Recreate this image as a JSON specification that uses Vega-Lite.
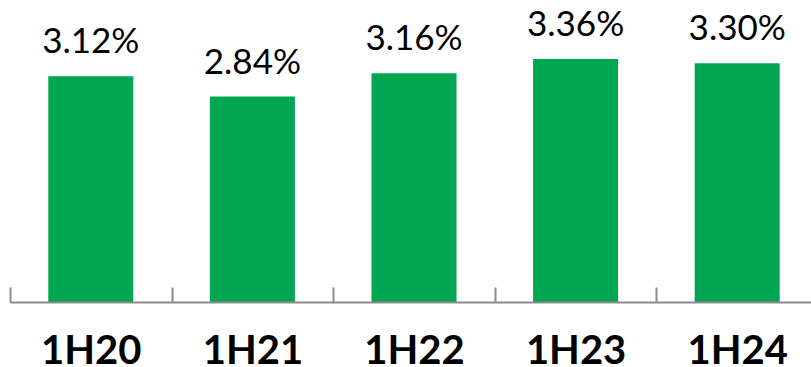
{
  "$schema": "https://vega.github.io/schema/vega-lite/v6.json",
  "autosize": {"type": "none"},
  "width": 808,
  "height": 302,
  "padding": {"left": 10, "top": 0, "right": 0, "bottom": 65},
  "background": "white",
  "data": {"values": [
    {"period": "1H20", "value": 3.12, "label": "3.12%"},
    {"period": "1H21", "value": 2.84, "label": "2.84%"},
    {"period": "1H22", "value": 3.16, "label": "3.16%"},
    {"period": "1H23", "value": 3.36, "label": "3.36%"},
    {"period": "1H24", "value": 3.30, "label": "3.30%"}
  ]},
  "config": {"view": {"stroke": null}},
  "encoding": {
    "x": {
      "field": "period", "type": "nominal", "sort": null,
      "scale": {"paddingInner": 0.474, "paddingOuter": 0.237},
      "axis": {
        "title": null, "labelAngle": 0, "domainColor": "#8c8c8c", "domainWidth": 2, "zindex": 1,
        "tickColor": "#8c8c8c", "tickWidth": 2, "tickSize": -15, "tickOffset": -80.75, "labelOffset": 80.75,
        "labelFont": "Lato", "labelFontWeight": "bold", "labelFontSize": 40, "labelColor": "#000000",
        "labelBaseline": "alphabetic", "labelPadding": 76
      }
    },
    "y": {"field": "value", "type": "quantitative", "scale": {"domain": [0, 4.174]}, "axis": null}
  },
  "layer": [
    {"mark": {"type": "bar", "color": "#00A651"}},
    {"mark": {"type": "text", "font": "Lato", "fontSize": 35, "color": "#000000", "baseline": "alphabetic", "dy": -23},
     "encoding": {"text": {"field": "label"}}}
  ]
}
